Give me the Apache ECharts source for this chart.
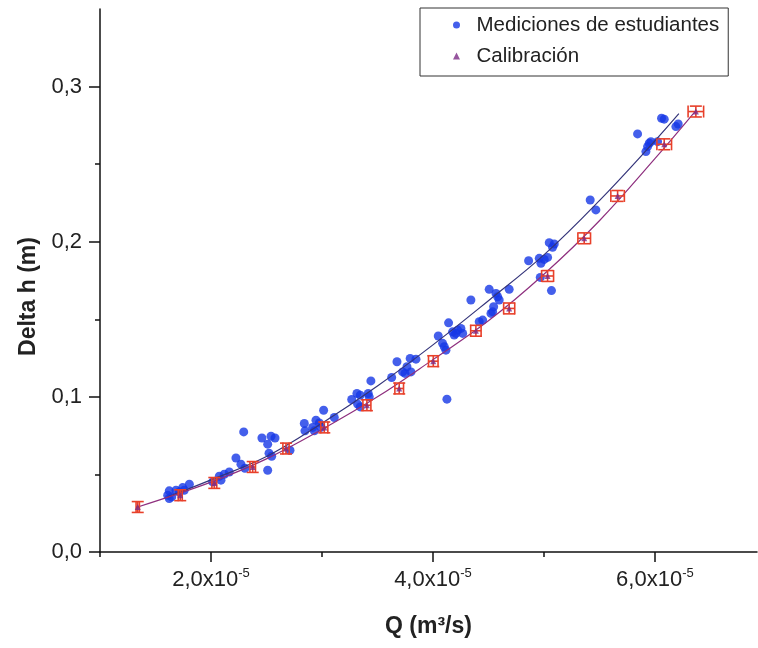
<!DOCTYPE html>
<html>
<head>
<meta charset="utf-8">
<script src="https://cdn.jsdelivr.net/npm/echarts@6/dist/echarts.min.js"></script>
<style>
  html, body { margin: 0; padding: 0; background: #fff; }
  #chart { width: 758px; height: 648px; }
</style>
</head>
<body>
<div id="chart"></div>
<script>
// Q en unidades de 1e-5 m3/s, Delta h en m
const students = [
  [1.610, 0.0366], [1.624, 0.0394], [1.624, 0.0345], [1.646, 0.0355], [1.685, 0.0398],
  [1.714, 0.0387], [1.745, 0.0415], [1.759, 0.0398], [1.805, 0.0437], [2.015, 0.0452],
  [2.075, 0.0488], [2.090, 0.0463], [2.120, 0.0501], [2.165, 0.0516], [2.225, 0.0606],
  [2.270, 0.0566], [2.306, 0.0540], [2.295, 0.0774], [2.459, 0.0735], [2.541, 0.0746],
  [2.577, 0.0735], [2.511, 0.0695], [2.523, 0.0637], [2.547, 0.0617], [2.511, 0.0527],
  [2.712, 0.0656], [2.841, 0.0828], [2.847, 0.0781], [2.916, 0.0803], [2.931, 0.0781],
  [2.946, 0.0850], [2.976, 0.0832], [2.991, 0.0803], [3.015, 0.0914], [3.111, 0.0867],
  [3.268, 0.0983], [3.315, 0.1022], [3.345, 0.1011], [3.322, 0.0953], [3.345, 0.0935],
  [3.417, 0.1022], [3.426, 0.1000], [3.441, 0.1103], [3.628, 0.1125], [3.676, 0.1226],
  [3.766, 0.1194], [3.795, 0.1248], [3.847, 0.1243], [3.748, 0.1151], [3.802, 0.1161],
  [3.727, 0.1161], [4.048, 0.1392], [4.087, 0.1345], [4.102, 0.1323], [4.117, 0.1301],
  [4.141, 0.1477], [4.177, 0.1419], [4.192, 0.1398], [4.223, 0.1430], [4.252, 0.1441],
  [4.268, 0.1409], [4.207, 0.1409], [4.342, 0.1624], [4.417, 0.1484], [4.448, 0.1495],
  [4.507, 0.1693], [4.568, 0.1667], [4.583, 0.1645], [4.597, 0.1624], [4.538, 0.1548],
  [4.523, 0.1538], [4.547, 0.1581], [4.687, 0.1693], [4.862, 0.1877], [4.958, 0.1893],
  [4.973, 0.1861], [5.003, 0.1886], [5.033, 0.1899], [4.967, 0.1770], [5.068, 0.1685],
  [5.048, 0.1994], [5.093, 0.1985], [5.078, 0.1964], [5.417, 0.2269], [5.468, 0.2205],
  [5.844, 0.2695], [5.919, 0.2581], [5.934, 0.2613], [5.949, 0.2635], [5.964, 0.2645],
  [6.024, 0.2645], [6.060, 0.2796], [6.084, 0.2790], [6.189, 0.2742], [6.210, 0.2759],
  [4.126, 0.0985]
];

const calibQ = [1.340, 1.723, 2.030, 2.376, 2.676, 3.021, 3.405, 3.696, 4.003, 4.387, 4.687, 5.033, 5.363, 5.664, 6.084, 6.369];
const calibH = [0.0290, 0.0366, 0.0445, 0.0548, 0.0667, 0.0803, 0.0946, 0.1054, 0.1230, 0.1426, 0.1570, 0.1779, 0.2022, 0.2295, 0.2628, 0.2839];
const calibErrQ = [0.015, 0.018, 0.022, 0.025, 0.028, 0.032, 0.036, 0.039, 0.043, 0.047, 0.050, 0.054, 0.057, 0.061, 0.066, 0.070];
const calibErrH = [0.0035, 0.0035, 0.0035, 0.0035, 0.0035, 0.0035, 0.0035, 0.0035, 0.0035, 0.0035, 0.0035, 0.0035, 0.0035, 0.0035, 0.0035, 0.0035];

// curvas de ajuste
const fitStudentQ = [1.61, 2.0, 2.5, 3.0, 3.5, 4.0, 4.5, 5.0, 5.5, 6.0, 6.216];
const fitStudentH = [0.0355, 0.0465, 0.0615, 0.0830, 0.1070, 0.1335, 0.1620, 0.1915, 0.2265, 0.2650, 0.2825];
const fitCalibQ = [1.34, 2.0, 2.5, 3.0, 3.5, 4.0, 4.5, 5.0, 5.5, 6.0, 6.369];
const fitCalibH = [0.0290, 0.0450, 0.0600, 0.0790, 0.1000, 0.1240, 0.1490, 0.1790, 0.2135, 0.2535, 0.2845];

const xMajor = [2, 4, 6];
const xMinor = [1, 3, 5];
const yMajor = [0, 0.1, 0.2, 0.3];
const yMinor = [0.05, 0.15, 0.25];

const FONT = '"Liberation Sans", Arial, sans-serif';
const AXIS = '#111';

const chart = echarts.init(document.getElementById('chart'));

const calibData = calibQ.map((q, i) => [q, calibH[i], calibErrQ[i], calibErrH[i]]);

function renderErr(params, api) {
  const x = api.value(0), y = api.value(1), ex = api.value(2), ey = api.value(3);
  const c = api.coord([x, y]);
  const top = api.coord([x, y + ey]);
  const bot = api.coord([x, y - ey]);
  const l = api.coord([x - ex, y]);
  const r = api.coord([x + ex, y]);
  const cap = 6;
  const st = { stroke: '#e8402a', lineWidth: 1.6 };
  const line = (x1, y1, x2, y2) => ({ type: 'line', shape: { x1, y1, x2, y2 }, style: st });
  return {
    type: 'group',
    children: [
      line(c[0], top[1], c[0], bot[1]),
      line(c[0] - cap, top[1], c[0] + cap, top[1]),
      line(c[0] - cap, bot[1], c[0] + cap, bot[1]),
      line(l[0], c[1], r[0], c[1]),
      line(l[0], c[1] - cap, l[0], c[1] + cap),
      line(r[0], c[1] - cap, r[0], c[1] + cap)
    ]
  };
}

const option = {
  animation: false,
  backgroundColor: '#fff',
  textStyle: { fontFamily: FONT },
  grid: { left: 100, right: 1, top: 9, bottom: 96 },
  legend: {
    left: 420, top: 8,
    orient: 'vertical',
    padding: [6, 9, 9, 33],
    borderColor: '#333', borderWidth: 1,
    itemWidth: 30, itemHeight: 7, itemGap: 9,
    textStyle: { fontSize: 20.5, color: '#222', fontFamily: FONT, lineHeight: 22 },
    data: [
      { name: 'Mediciones de estudiantes', icon: 'circle' },
      { name: 'Calibración', icon: 'path://M0,-1L1,1L-1,1Z' }
    ]
  },
  xAxis: [
    {
      type: 'value', min: 1, max: 6.92, position: 'bottom',
      name: 'Q (m³/s)', nameLocation: 'middle', nameGap: 63,
      nameTextStyle: { fontSize: 23, fontWeight: 'bold', color: '#222', fontFamily: FONT },
      axisLine: { lineStyle: { color: AXIS, width: 1.5 } },
      axisTick: { customValues: xMajor, length: 10, lineStyle: { color: AXIS, width: 1.5 } },
      axisLabel: {
        customValues: xMajor, margin: 15,
        formatter: v => '{a|' + v.toFixed(1).replace('.', ',') + 'x10}{b|-5}',
        rich: {
          a: { fontSize: 22, color: '#222', fontFamily: FONT, lineHeight: 26 },
          b: { fontSize: 13, color: '#222', fontFamily: FONT, lineHeight: 13, verticalAlign: 'top' }
        }
      },
      splitLine: { show: false }
    },
    {
      type: 'value', min: 1, max: 6.92, position: 'bottom',
      axisLine: { show: false },
      axisTick: { customValues: xMinor, length: 5, lineStyle: { color: AXIS, width: 1.5 } },
      axisLabel: { show: false },
      splitLine: { show: false }
    }
  ],
  yAxis: [
    {
      type: 'value', min: 0, max: 0.35, position: 'left',
      name: 'Delta h (m)', nameLocation: 'middle', nameGap: 58, nameRotate: 90,
      nameTextStyle: { fontSize: 23, fontWeight: 'bold', color: '#222', fontFamily: FONT, padding: [0, 32, 0, 0] },
      axisLine: { lineStyle: { color: AXIS, width: 1.5 } },
      axisTick: { customValues: yMajor, length: 11, lineStyle: { color: AXIS, width: 1.5 } },
      axisLabel: {
        customValues: yMajor, margin: 18,
        fontSize: 22, color: '#222', fontFamily: FONT,
        formatter: v => v.toFixed(1).replace('.', ',')
      },
      splitLine: { show: false }
    },
    {
      type: 'value', min: 0, max: 0.35, position: 'left',
      axisLine: { show: false },
      axisTick: { customValues: yMinor, length: 5, lineStyle: { color: AXIS, width: 1.5 } },
      axisLabel: { show: false },
      splitLine: { show: false }
    }
  ],
  series: [
    {
      name: 'Mediciones de estudiantes',
      type: 'scatter',
      symbol: 'circle', symbolSize: 9,
      itemStyle: { color: '#1537e6' },
      data: students,
      z: 2
    },
    {
      name: 'ajuste estudiantes',
      type: 'line', smooth: 0.4, showSymbol: false,
      lineStyle: { color: '#34347a', width: 1.2 },
      data: fitStudentQ.map((q, i) => [q, fitStudentH[i]]),
      z: 3
    },
    {
      name: 'ajuste calibración',
      type: 'line', smooth: 0.4, showSymbol: false,
      lineStyle: { color: '#8e2f7e', width: 1.2 },
      data: fitCalibQ.map((q, i) => [q, fitCalibH[i]]),
      z: 3
    },
    {
      name: 'errores',
      type: 'custom',
      renderItem: renderErr,
      data: calibData,
      z: 4
    },
    {
      name: 'Calibración',
      type: 'scatter',
      symbol: 'triangle', symbolSize: 6,
      itemStyle: { color: '#7c2a86' },
      data: calibQ.map((q, i) => [q, calibH[i]]),
      z: 5
    }
  ]
};

chart.setOption(option);
</script>
</body>
</html>
